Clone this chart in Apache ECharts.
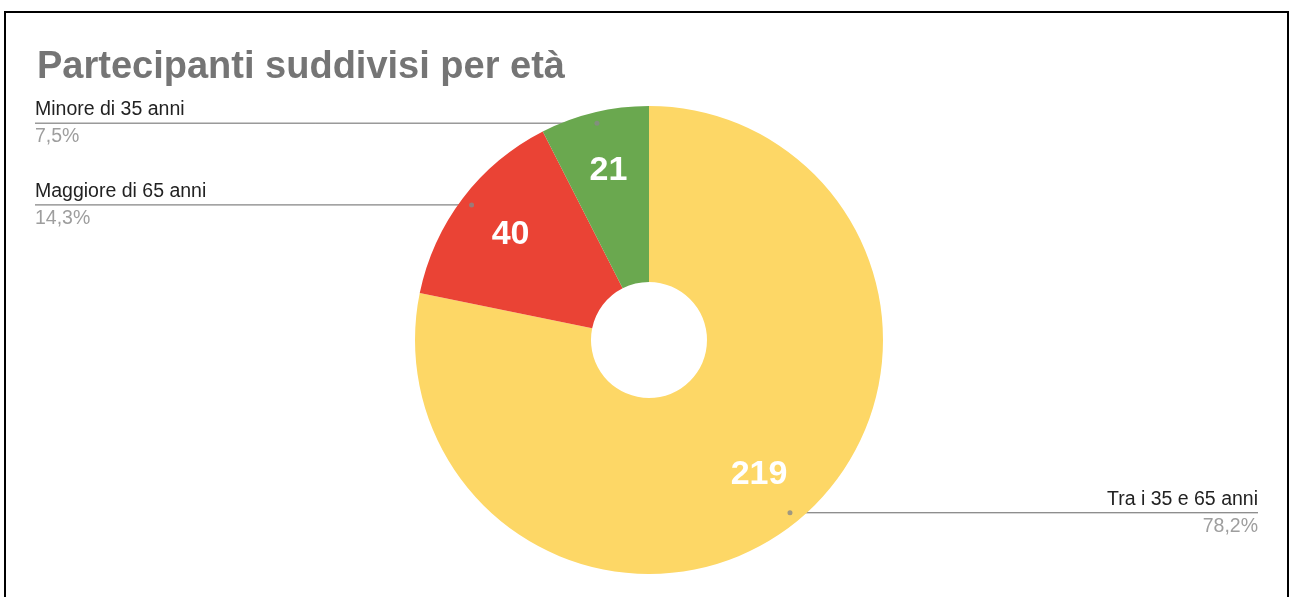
<!DOCTYPE html>
<html>
<head>
<meta charset="utf-8">
<script src="https://cdn.jsdelivr.net/npm/echarts@6/dist/echarts.min.js"></script>
<style>
  html, body { margin: 0; padding: 0; background: #fff; overflow: hidden; }
  #chart { position: absolute; left: 0; top: 0; width: 1293px; height: 597px; }
  #frame {
    position: absolute; left: 4px; top: 11px; width: 1285px; height: 620px;
    box-sizing: border-box; border: 2px solid #000; pointer-events: none;
  }
</style>
</head>
<body>
<div id="chart"></div>
<div id="frame"></div>
<script>
const title = 'Partecipanti suddivisi per età'
const categories = ['Tra i 35 e 65 anni', 'Maggiore di 65 anni', 'Minore di 35 anni']
const values = [219, 40, 21]
const colors = ['#fdd766', '#ea4335', '#6aa84f']

// layout of the donut, in px
const center = [649, 340]
const innerR = 58
const outerR = 234
const dotR = 223
const valueLabelR = 108
const font = '"Liberation Sans", Arial, sans-serif'

const total = values.reduce((a, b) => a + b, 0)
const items = categories.map((name, i) => ({ name, value: values[i] }))

// mid angle of every slice, in data units, for the little dots at the start of the label lines
let acc = 0
const dots = values.map((v) => {
  const mid = acc + v / 2
  acc += v
  return [dotR, mid]
})

const fmtPct = (p) => p.toFixed(1).replace('.', ',') + '%'

const myChart = echarts.init(document.getElementById('chart'))

myChart.setOption({
  animation: false,
  title: {
    text: title,
    left: 37,
    top: 49,
    padding: 0,
    textStyle: {
      fontFamily: font,
      fontSize: 38,
      fontWeight: 'bold',
      color: '#757575',
    },
  },
  polar: { center, radius: outerR },
  angleAxis: { type: 'value', min: 0, max: total, startAngle: 90, clockwise: true, show: false },
  radiusAxis: { type: 'value', min: 0, max: outerR, show: false },
  series: [
    {
      type: 'pie',
      center,
      radius: [innerR, outerR],
      startAngle: 90,
      silent: true,
      data: items,
      color: colors,
      label: { show: false },
      labelLine: { show: false },
    },
    {
      // big numbers inside the slices
      type: 'pie',
      center,
      radius: [valueLabelR, outerR],
      startAngle: 90,
      silent: true,
      data: items,
      itemStyle: { color: 'transparent' },
      label: {
        position: 'inside',
        formatter: '{c}',
        fontFamily: font,
        fontSize: 34,
        fontWeight: 'bold',
        color: '#fff',
      },
      labelLine: { show: false },
    },
    {
      // outside labels with name and percentage
      type: 'pie',
      center,
      radius: [0, dotR],
      startAngle: 90,
      silent: true,
      percentPrecision: 1,
      data: items,
      itemStyle: { color: 'transparent' },
      label: {
        position: 'outside',
        alignTo: 'edge',
        edgeDistance: 35,
        formatter: (p) => '{n|' + p.name + '}\n{p|' + fmtPct(p.percent) + '}',
        rich: {
          n: { fontFamily: font, fontSize: 19.5, color: '#222', lineHeight: 27 },
          p: { fontFamily: font, fontSize: 19.5, color: '#9e9e9e', lineHeight: 27 },
        },
      },
      labelLine: {
        show: true,
        length: 0,
        length2: 10,
        lineStyle: { color: '#666', width: 1 },
      },
      // line runs under the name, out to the far side of the text
      labelLayout: (params) => {
        const pts = params.labelLinePoints
        if (!pts) return {}
        const r = params.labelRect
        const isLeft = r.x < center[0]
        const endX = isLeft ? r.x : r.x + r.width
        const y = pts[pts.length - 1][1]
        return { labelLinePoints: [pts[0], pts[1], [endX, y]] }
      },
    },
    {
      type: 'scatter',
      coordinateSystem: 'polar',
      silent: true,
      symbolSize: 5,
      itemStyle: { color: '#888' },
      data: dots,
      z: 5,
    },
  ],
})
</script>
</body>
</html>
